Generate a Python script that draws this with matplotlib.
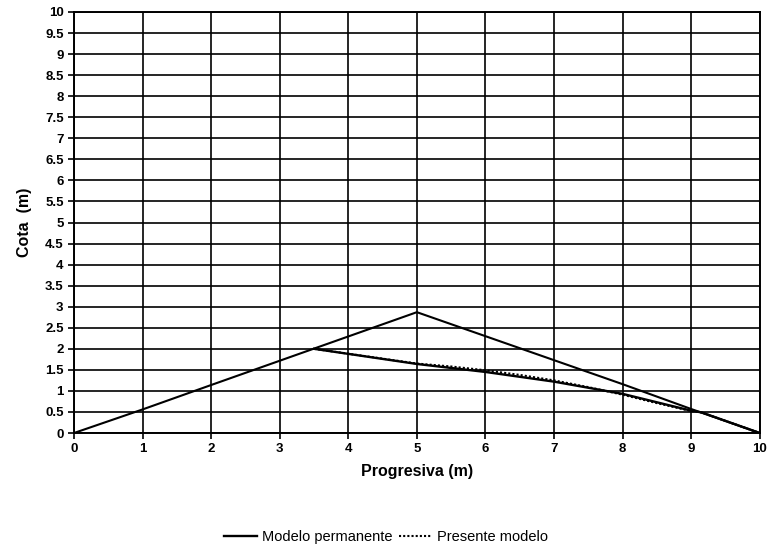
import numpy as np
import matplotlib.pyplot as plt

plt.rcParams['font.family'] = ['Liberation Sans', 'DejaVu Sans']

# perfil inicial (triangulo)
x_inicial = [0, 1, 2, 5, 8, 9, 10]
y_inicial = [0, 0.56, 1.14, 2.87, 1.16, 0.57, 0]

# modelo permanente
x_perm = [3.5, 5, 6, 7, 8, 9, 9.15, 10]
y_perm = [2.0, 1.64, 1.45, 1.22, 0.93, 0.53, 0.49, 0]

# presente modelo
x_pres = [3.5, 5, 5.5, 6, 6.5, 7, 7.5, 8, 8.5, 9, 9.15, 10]
y_pres = [2.0, 1.65, 1.58, 1.49, 1.38, 1.25, 1.09, 0.91, 0.71, 0.52, 0.49, 0]

fig = plt.figure(figsize=(7.69, 5.5), dpi=100)
ax = fig.add_axes([0.0962, 0.2127, 0.8918, 0.7655])

ax.plot(x_inicial, y_inicial, color='black', lw=1.5)
ax.plot(x_perm, y_perm, color='black', lw=1.7, label='Modelo permanente')
ax.plot(x_pres, y_pres, color='black', lw=1.5, ls=(0, (1, 1)), label='Presente modelo')

ax.set_xlim(0, 10)
ax.set_ylim(0, 10)
ax.set_xticks(np.arange(0, 11, 1))
ax.set_yticks(np.arange(0, 10.5, 0.5))
ax.set_yticklabels([f'{v:g}' for v in np.arange(0, 10.5, 0.5)])
ax.grid(True, color='black', lw=1.2)
for s in ax.spines.values():
    s.set_linewidth(1.4)
ax.tick_params(direction='out', length=4, width=1.2, colors='black', labelsize=9.5)
for lab in ax.get_xticklabels() + ax.get_yticklabels():
    lab.set_fontweight('bold')

ax.set_xlabel('Progresiva (m)', fontsize=11.5, fontweight='bold', labelpad=6)
ax.set_ylabel('Cota  (m)', fontsize=11.5, fontweight='bold', labelpad=9)

fig.legend(loc='center', bbox_to_anchor=(0.502, 0.024), ncol=2, frameon=False,
           fontsize=10.5, handlelength=2.2, columnspacing=0.4, handletextpad=0.4)

plt.savefig('out.png')
